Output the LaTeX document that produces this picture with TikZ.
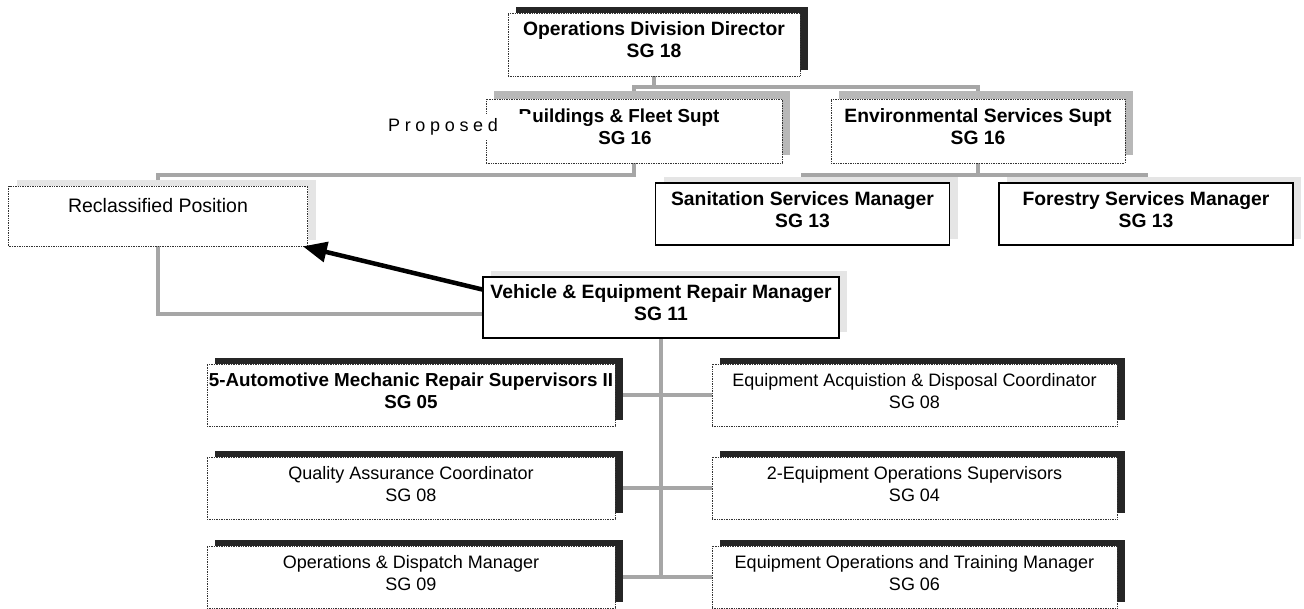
\documentclass[tikz,border=0pt]{standalone}
\usepackage{fontspec}
\setmainfont{Liberation Sans}
\newfontfamily\spacedfont[LetterSpace=26]{Liberation Sans}
\usepackage{tikz}
\usetikzlibrary{shadows}
\usetikzlibrary{arrows.meta}
\usetikzlibrary{backgrounds}
\tikzstyle{box}=[rectangle,fill=white,draw=black!80,densely dotted,line width=0.7pt,inner sep=0pt,align=center,text depth=9pt,font=\fontsize{18}{22}\selectfont]
\tikzstyle{solidbox}=[box,solid,draw=black,line width=1.4pt]
\tikzstyle{bold}=[font=\fontsize{19.3}{22}\selectfont\bfseries]
\tikzstyle{darkshadow}=[drop shadow={shadow xshift=8pt,shadow yshift=6pt,fill=black!85,opacity=1}]
\tikzstyle{greyshadow}=[drop shadow={shadow xshift=8pt,shadow yshift=8pt,fill=black!28,opacity=1}]
\tikzstyle{lightshadow}=[drop shadow={shadow xshift=8pt,shadow yshift=6pt,fill=black!10,opacity=1}]
\tikzstyle{conn} = [draw=black!35,line width=4pt]
\tikzstyle{bigarrow} = [draw=black,line width=4.5pt,-{Triangle[length=24pt,width=20pt]}]
\newcommand{\hd}[1]{{\fontsize{18.8}{22}\selectfont\bfseries #1}}

\begin{document}
\begin{tikzpicture}[x=1pt,y=-1pt]
\useasboundingbox (0,0) rectangle (1304,609);

%director and superintendents
\node[box,bold,darkshadow,minimum width=292pt,minimum height=63pt] (dir) at (654,44.5) {Operations Division Director\\SG 18};
\node[box,greyshadow,minimum width=296pt,minimum height=64pt] (bldg) at (634,131) {\hd{Buildings \& Fleet Supt}\hspace*{30pt}\\\hd{SG 16}\hspace*{18pt}};
\node[box,bold,greyshadow,minimum width=294pt,minimum height=64pt] (env) at (978,131) {Environmental Services Supt\\SG 16};
\node[fill=white,inner xsep=34pt,inner ysep=5pt,font=\spacedfont\fontsize{18}{22}\selectfont] (prop) at (443,127) {Proposed};

%managers
\foreach \pos/\name/\txt in {{(802.5,214)/san/{Sanitation Services Manager\\SG 13}}, {(1146,214)/for/{Forestry Services Manager\\SG 13}}}
    \node[solidbox,bold,lightshadow,minimum width=294pt,minimum height=62pt] (\name) at \pos {\txt};
\node[box,lightshadow,font=\fontsize{19.5}{22}\selectfont,text depth=22pt,minimum width=299pt,minimum height=60pt] (recl) at (158,216) {Reclassified Position};
\node[solidbox,bold,lightshadow,minimum width=356pt,minimum height=61pt] (veh) at (661,307.5) {Vehicle \& Equipment Repair Manager\\SG 11};

%layer below repair manager
\def\lx{411}
\def\rx{914.5}
\foreach \y/\name/\txt in {395/LA/{\hd{5-Automotive Mechanic Repair Supervisors II}\\\hd{SG 05}}, 488/LB/{Quality Assurance Coordinator\\SG 08}, 577/LC/{Operations \& Dispatch Manager\\SG 09}}
    \node[box,darkshadow,minimum width=408pt,minimum height=62pt] (\name) at (\lx,\y) {\txt};
\foreach \y/\name/\txt in {395/RA/{Equipment Acquistion \& Disposal Coordinator\\SG 08}, 488/RB/{2-Equipment Operations Supervisors\\SG 04}, 577/RC/{Equipment Operations and Training Manager\\SG 06}}
    \node[box,darkshadow,minimum width=405pt,minimum height=62pt] (\name) at (\rx,\y) {\txt};

% connecting lines
\coordinate (busA) at (654,87);
\coordinate (busB) at (0,175);
\coordinate (vehin) at ([yshift=-7pt]veh.west);
\begin{pgfonlayer}{background}
    \draw[conn] (dir.south) -- (dir.south |- busA);
    \draw[conn] (bldg.north) |- (env.north |- busA) -- (env.north);
    \draw[conn] (env.south) -- (env.south |- busB);
    \draw[conn] (san.north) |- (for.north |- busB) -- (for.north);
    \draw[conn] (bldg.south) |- (recl.north |- busB) -- (recl.north |- vehin) -- (vehin);
    \draw[conn] (veh.south) -- (veh.south |- LC.east);
    \foreach \source/\dest in {LA/RA, LB/RB, LC/RC}
        \draw[conn] (\source.east) -- (\dest.west);
\end{pgfonlayer}

\draw[bigarrow] ([yshift=18pt]veh.west) -- ([xshift=-5pt]recl.south east);

\end{tikzpicture}
\end{document}
